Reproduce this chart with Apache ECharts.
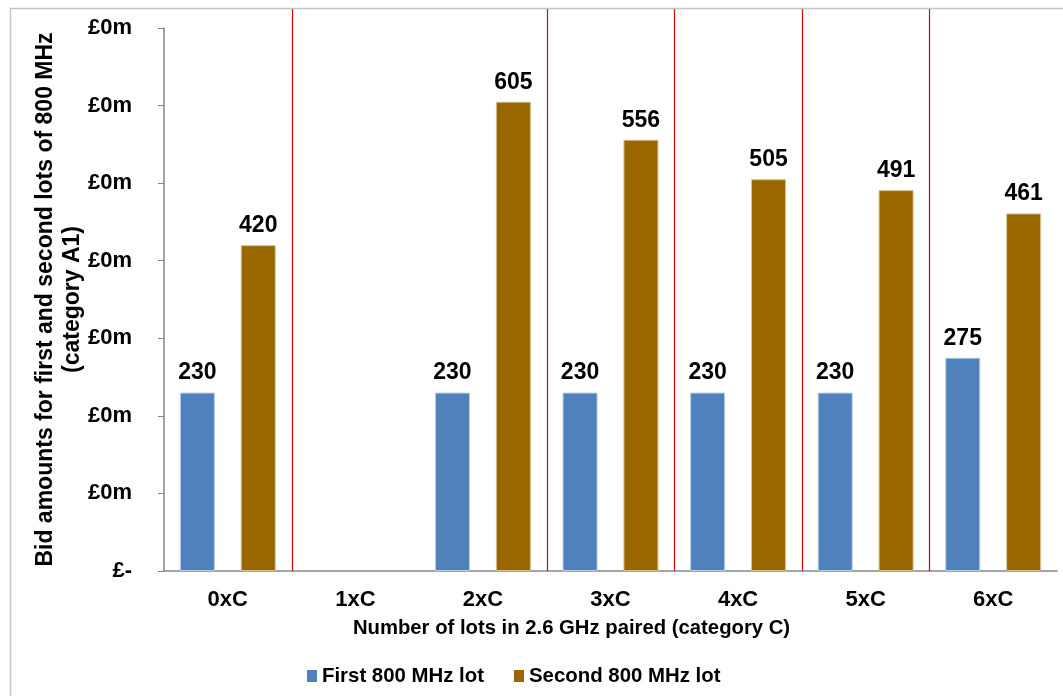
<!DOCTYPE html>
<html>
<head>
<meta charset="utf-8">
<script src="https://cdn.jsdelivr.net/npm/echarts@6/dist/echarts.min.js"></script>
<style>
  html, body { margin: 0; padding: 0; background: #ffffff; }
  #chart { width: 1063px; height: 696px; }
</style>
</head>
<body>
<div id="chart"></div>
<script>
// Categories: number of 2.6 GHz paired lots
const categories = ['0xC', '1xC', '2xC', '3xC', '4xC', '5xC', '6xC'];
// Bid amounts (labels) for first and second 800 MHz lots
const firstLot = [230, null, 230, 230, 230, 230, 275];
const secondLot = [420, null, 605, 556, 505, 491, 461];
// Y tick labels, one per 100 step from 0 to 700
const yTickLabels = ['£-', '£0m', '£0m', '£0m', '£0m', '£0m', '£0m', '£0m'];
// Category boundaries where red separator lines are drawn
const separators = [1, 3, 4, 5, 6];

const FONT = "'Liberation Sans', Arial, sans-serif";
const chart = echarts.init(document.getElementById('chart'), null, { renderer: 'canvas' });

const labelStyle = {
  show: true,
  position: 'top',
  distance: 8,
  fontFamily: FONT,
  fontWeight: 'bold',
  fontSize: 23,
  color: '#000'
};

chart.setOption({
  animation: false,
  backgroundColor: '#ffffff',
  textStyle: { fontFamily: FONT },
  grid: { left: 164, right: 6, top: 28, bottom: 125, containLabel: false },
  legend: {
    left: 307,
    top: 666,
    padding: 0,
    itemWidth: 10,
    itemHeight: 12,
    itemGap: 30,
    icon: 'rect',
    itemStyle: { borderWidth: 0 },
    textStyle: { fontFamily: FONT, fontWeight: 'bold', fontSize: 20.4, color: '#000' },
    data: ['First 800 MHz lot', 'Second 800 MHz lot']
  },
  xAxis: [
    {
      type: 'category',
      data: categories,
      axisLine: { lineStyle: { color: '#868686', width: 1.5 } },
      axisTick: { show: false },
      axisLabel: { margin: 18, fontFamily: FONT, fontWeight: 'bold', fontSize: 22, color: '#000' },
      name: 'Number of lots in 2.6 GHz paired (category C)',
      nameLocation: 'middle',
      nameGap: 47,
      nameMoveOverlap: false,
      nameTextStyle: { fontFamily: FONT, fontWeight: 'bold', fontSize: 20.3, color: '#000', padding: [0, 78, 0, 0] }
    },
    {
      type: 'value',
      min: 0,
      max: 7,
      show: false
    }
  ],
  yAxis: {
    type: 'value',
    min: 0,
    max: 700,
    interval: 100,
    splitLine: { show: false },
    axisLine: { show: true, lineStyle: { color: '#868686', width: 1.5 } },
    axisTick: { show: true, length: 6, lineStyle: { color: '#868686' } },
    axisLabel: {
      margin: 32,
      fontFamily: FONT,
      fontWeight: 'bold',
      fontSize: 22,
      color: '#000',
      formatter: (v) => yTickLabels[Math.round(v / 100)]
    },
    name: 'Bid amounts for first and second lots of 800 MHz\n(category A1)',
    nameLocation: 'middle',
    nameRotate: 90,
    nameGap: 78,
    nameMoveOverlap: false,
    nameTextStyle: { fontFamily: FONT, fontWeight: 'bold', fontSize: 23, color: '#000', lineHeight: 27 }
  },
  series: [
    {
      name: 'First 800 MHz lot',
      type: 'bar',
      data: firstLot,
      barWidth: 35,
      barGap: '74%',
      itemStyle: { color: '#4F81BD', borderColor: '#b9cde5', borderWidth: 1 },
      label: labelStyle
    },
    {
      name: 'Second 800 MHz lot',
      type: 'bar',
      data: secondLot,
      barWidth: 35,
      barGap: '74%',
      itemStyle: { color: '#996600', borderColor: '#d6c08e', borderWidth: 1 },
      label: labelStyle
    }
  ]
});

// Outer chart frame and red separators between category groups
const baseY = chart.convertToPixel({ yAxisIndex: 0 }, 0);
const graphics = [
  {
    type: 'rect',
    shape: { x: 10.5, y: 8.5, width: 1200, height: 900 },
    style: { fill: null, stroke: '#c4c4c4', lineWidth: 1.5 },
    silent: true,
    z: 0
  }
];
separators.forEach((s) => {
  const x = Math.round(chart.convertToPixel({ xAxisIndex: 1 }, s)) + 0.5;
  graphics.push({
    type: 'line',
    shape: { x1: x, y1: 9, x2: x, y2: baseY },
    style: { stroke: '#dd0000', lineWidth: 1.2 },
    silent: true,
    z: 100
  });
});
chart.setOption({ graphic: graphics });
</script>
</body>
</html>
